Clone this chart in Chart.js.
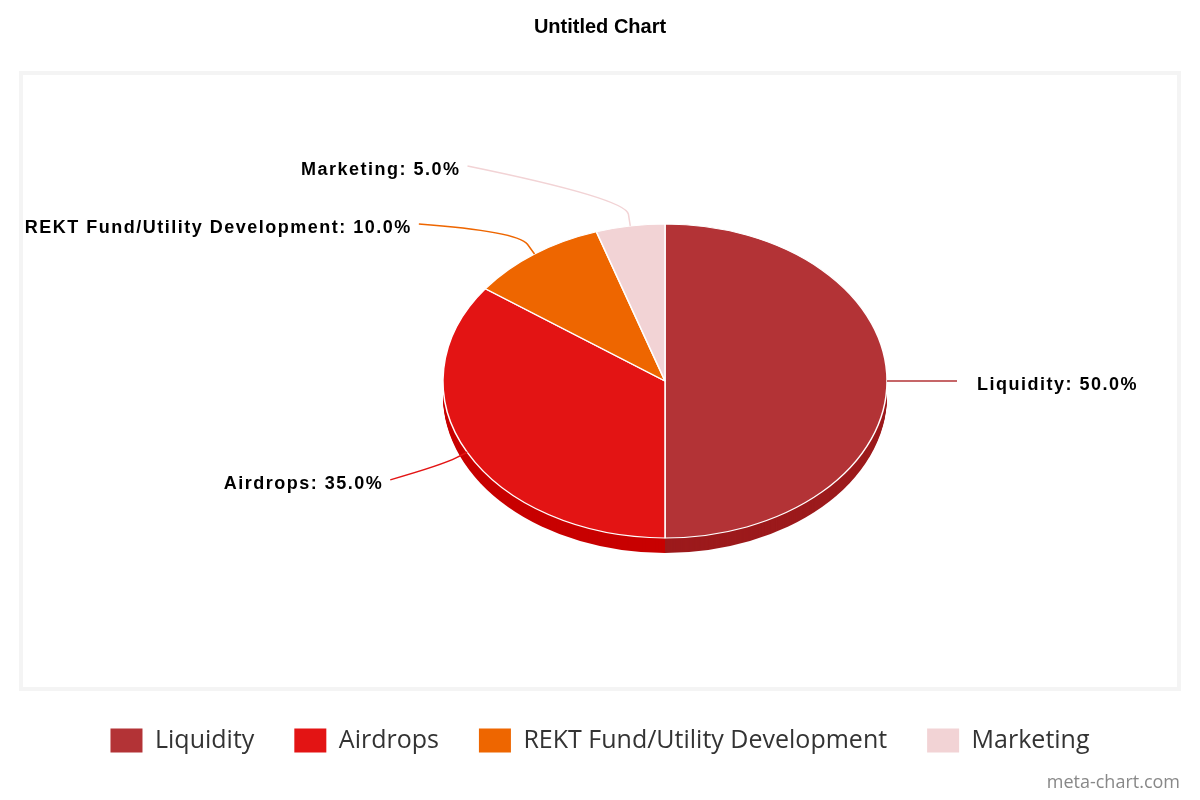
<!DOCTYPE html>
<html>
<head>
<meta charset="utf-8">
<title>Untitled Chart</title>
<script src="https://cdn.jsdelivr.net/npm/chart.js@4.4.0/dist/chart.umd.min.js"></script>
<style>
  html, body { margin: 0; padding: 0; background: #fff; }
  #wrap { width: 1200px; height: 800px; }
</style>
</head>
<body>
<div id="wrap"><canvas id="myChart"></canvas></div>
<script>
const labels = ['Liquidity', 'Airdrops', 'REKT Fund/Utility Development', 'Marketing'];
const values = [50, 35, 10, 5];
const topColors = ['#b33336', '#e31414', '#ee6600', '#f2d3d5'];
const sideColors = ['#9c1a1c', '#c80000', '#d45500', '#d9b9bb'];

const tilt = 0.707;      // vertical squash of the pie
const depth = 15;        // thickness of the pie edge
const shiftX = 65;       // pie sits right of centre
const labelDistance = 86;
const labelGap = 58;

// fake 3d: squash the pie and paint its edge underneath
const pie3d = {
    id: 'pie3d',
    beforeDatasetsDraw(chart) {
        const ctx = chart.ctx;
        const arcs = chart.getDatasetMeta(0).data;
        const cy = arcs[0].y;
        ctx.save();
        ctx.translate(shiftX, cy);
        ctx.scale(1, tilt);
        ctx.translate(0, -cy);
        for (let d = depth; d > 0; d--) {
            arcs.forEach((arc, i) => {
                const y = arc.y + d / tilt;
                ctx.beginPath();
                ctx.moveTo(arc.x, y);
                ctx.arc(arc.x, y, arc.outerRadius, arc.startAngle, arc.endAngle);
                ctx.closePath();
                ctx.fillStyle = sideColors[i];
                ctx.fill();
            });
        }
    },
    afterDatasetsDraw(chart) {
        chart.ctx.restore();
    }
};

const outsideLabels = {
    id: 'outsideLabels',
    afterDraw(chart) {
        const ctx = chart.ctx;
        const arcs = chart.getDatasetMeta(0).data;
        const total = values.reduce((s, v) => s + v, 0);
        const items = arcs.map((arc, i) => {
            const mid = (arc.startAngle + arc.endAngle) / 2;
            const cx = arc.x + shiftX, cy = arc.y, r = arc.outerRadius;
            const cos = Math.cos(mid), sin = Math.sin(mid);
            return {
                i, cos, sin, cx, cy, r,
                left: cos < 0,
                ax: cx + r * cos,
                ay: cy + r * tilt * sin,
                ey: cy + (r + labelDistance) * tilt * sin
            };
        });
        [true, false].forEach(side => {
            const list = items.filter(it => it.left === side).sort((a, b) => a.ey - b.ey);
            for (let k = 1; k < list.length; k++) {
                if (list[k].ey - list[k - 1].ey < labelGap) list[k].ey = list[k - 1].ey + labelGap;
            }
        });

        ctx.save();
        items.forEach(it => {
            const R = it.r + 70;
            const dy = it.ey - it.cy;
            const dx = Math.sqrt(Math.max(R * R - dy * dy, 0));
            const ex = it.left ? it.cx - dx : it.cx + dx;
            const px = it.ax + it.cos * 12, py = it.ay + it.sin * 12;
            const qx = px + it.cos * 16, qy = py + it.sin * 16;

            ctx.beginPath();
            ctx.moveTo(it.ax, it.ay);
            ctx.lineTo(px, py);
            ctx.quadraticCurveTo(qx, qy, ex, it.ey);
            ctx.strokeStyle = topColors[it.i];
            ctx.lineWidth = 1.5;
            ctx.stroke();

            const pct = (values[it.i] / total * 100).toFixed(1);
            ctx.font = 'bold 18px "Liberation Sans", Arial, sans-serif';
            ctx.letterSpacing = '1.5px';
            ctx.fillStyle = '#000';
            ctx.textBaseline = 'middle';
            ctx.textAlign = it.left ? 'right' : 'left';
            ctx.fillText(labels[it.i] + ': ' + pct + '%', it.left ? ex - 7 : ex + 20, it.ey + 4);
        });

        // watermark
        ctx.letterSpacing = '0px';
        ctx.font = '18px "Open Sans", sans-serif';
        ctx.fillStyle = '#888';
        ctx.textAlign = 'right';
        ctx.textBaseline = 'middle';
        ctx.fillText('meta-chart.com', chart.width - 20, chart.height - 17);
        ctx.restore();
    }
};

// light grey frame round the plot
const frame = {
    id: 'frame',
    beforeDraw(chart) {
        const a = chart.chartArea;
        const ctx = chart.ctx;
        ctx.save();
        ctx.strokeStyle = '#f4f4f4';
        ctx.lineWidth = 4;
        ctx.strokeRect(a.left + 21, a.top - 1, a.right - a.left - 42, a.bottom - a.top + 2);
        ctx.restore();
    }
};

const ctx = document.getElementById('myChart');
new Chart(ctx, {
    type: 'pie',
    data: {
        labels: labels,
        datasets: [{
            data: values,
            backgroundColor: topColors,
            borderColor: '#fff',
            borderWidth: 1.5,
            radius: 222,
            clip: false
        }]
    },
    options: {
        responsive: true,
        maintainAspectRatio: false,
        animation: false,
        events: [],
        layout: { padding: { top: 0, bottom: 37, left: 0, right: 0 } },
        plugins: {
            title: {
                display: true,
                text: 'Untitled Chart',
                color: '#000',
                font: { family: '"Liberation Sans", Arial, sans-serif', size: 20, weight: 'bold' },
                padding: { top: 15, bottom: 35 }
            },
            legend: {
                position: 'bottom',
                labels: {
                    color: '#333',
                    font: { family: '"Open Sans", sans-serif', size: 25 },
                    boxWidth: 32,
                    boxHeight: 24,
                    padding: 40,
                    generateLabels: () => labels.map((text, i) => ({
                        text: text,
                        fillStyle: topColors[i],
                        strokeStyle: topColors[i],
                        lineWidth: 0,
                        fontColor: '#333',
                        hidden: false,
                        index: i
                    }))
                }
            },
            tooltip: { enabled: false }
        }
    },
    plugins: [frame, pie3d, outsideLabels]
});
</script>
</body>
</html>
